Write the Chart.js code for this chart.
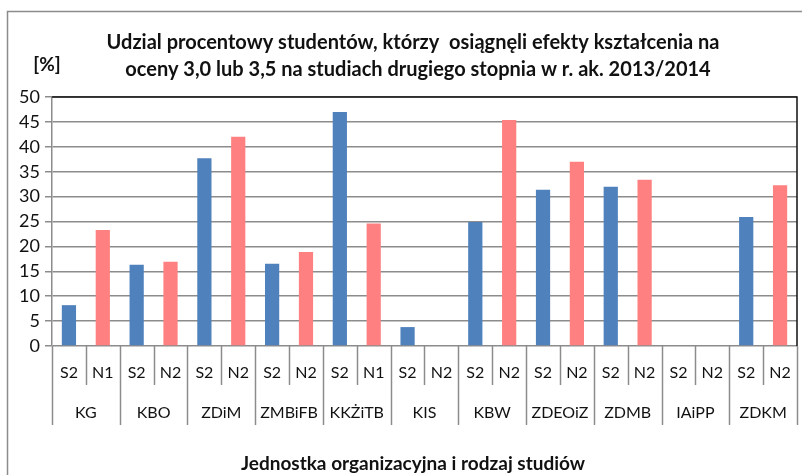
<!DOCTYPE html>
<html>
<head>
<meta charset="utf-8">
<script src="https://cdn.jsdelivr.net/npm/chart.js@4/dist/chart.umd.min.js"></script>
<style>
  html, body { margin: 0; padding: 0; background: #fff; }
  #wrap { width: 802px; height: 475px; }
</style>
</head>
<body>
<div id="wrap"><canvas id="chart" width="802" height="475"></canvas></div>
<script>
// jednostki i rodzaje studiów
const units = ['KG', 'KBO', 'ZDiM', 'ZMBiFB', 'KKŻiTB', 'KIS', 'KBW', 'ZDEOiZ', 'ZDMB', 'IAiPP', 'ZDKM']
const kinds = ['S2', 'N1', 'S2', 'N2', 'S2', 'N2', 'S2', 'N2', 'S2', 'N1', 'S2', 'N2', 'S2', 'N2', 'S2', 'N2', 'S2', 'N2', 'S2', 'N2', 'S2', 'N2']
const values = [8.2, 23.3, 16.3, 16.9, 37.7, 42.0, 16.5, 18.9, 47.0, 24.6, 3.8, 0, 24.9, 45.4, 31.4, 37.0, 32.0, 33.4, 0, 0, 25.9, 32.3]
const yTicks = [0, 5, 10, 15, 20, 25, 30, 35, 40, 45, 50]

const titleLines = [
    'Udzial procentowy studentów, którzy  osiągnęli efekty kształcenia na',
    'oceny 3,0 lub 3,5 na studiach drugiego stopnia w r. ak. 2013/2014',
]
const xTitle = 'Jednostka organizacyjna i rodzaj studiów'
const yUnit = '[%]'

const blue = '#4F81BD'
const pink = '#FF8080'
const font = 'Lato, "Open Sans", sans-serif'

const labels = kinds.map((k, i) => i)

const decor = {
    id: 'decor',
    beforeDraw(chart) {
        const c = chart.ctx
        c.save()
        c.strokeStyle = '#8c8c8c'
        c.lineWidth = 1.5
        c.strokeRect(7.5, 11.5, 900, 900)
        c.restore()
    },
    afterDraw(chart) {
        const c = chart.ctx
        const a = chart.chartArea
        const x = chart.scales.x
        const half = (x.getPixelForValue(1) - x.getPixelForValue(0)) / 2
        c.save()
        // ramka obszaru wykresu
        c.strokeStyle = '#111'
        c.lineWidth = 1.5
        c.beginPath()
        c.moveTo(a.left, a.top)
        c.lineTo(a.right, a.top)
        c.lineTo(a.right, a.bottom)
        c.stroke()

        // podziałki osi kategorii
        c.strokeStyle = '#8c8c8c'
        c.lineWidth = 1.5
        for (let i = 0; i <= kinds.length; i++) {
            const px = Math.round(x.getPixelForValue(0) - half + i * half * 2) + 0.5
            const len = i % 2 === 0 ? 79 : 39
            c.beginPath()
            c.moveTo(px, a.bottom)
            c.lineTo(px, a.bottom + len)
            c.stroke()
        }

        c.fillStyle = '#111'
        c.textAlign = 'center'
        c.textBaseline = 'middle'
        c.font = '16px ' + font
        kinds.forEach((k, i) => {
            c.fillText(k, x.getPixelForValue(i), a.bottom + 27)
        })
        units.forEach((u, i) => {
            c.fillText(u, x.getPixelForValue(i * 2) + half, a.bottom + 67)
        })

        c.font = 'bold 20px ' + font
        c.fillText(titleLines[0], 413, 43)
        c.fillText(titleLines[1], 418, 70)
        c.font = 'bold 19px ' + font
        c.fillText(yUnit, 47, 65)
        c.fillText(xTitle, 413, 464)
        c.restore()
    },
}

new Chart(document.getElementById('chart'), {
    type: 'bar',
    data: {
        labels: labels,
        datasets: [
            {
                data: values,
                backgroundColor: kinds.map((k, i) => (i % 2 === 0 ? blue : pink)),
                barPercentage: 0.42,
                categoryPercentage: 1,
            },
        ],
    },
    options: {
        responsive: false,
        animation: false,
        layout: { padding: { left: 0, top: 97, right: 5, bottom: 129 } },
        plugins: {
            legend: { display: false },
            tooltip: { enabled: false },
        },
        scales: {
            x: {
                display: false,
                offset: true,
            },
            y: {
                min: 0,
                max: 50,
                afterFit(scale) {
                    scale.width = 52
                },
                afterBuildTicks(scale) {
                    scale.ticks = yTicks.map((v) => ({ value: v }))
                },
                grid: {
                    color: '#8c8c8c',
                    lineWidth: 1.5,
                    tickLength: 7,
                },
                border: { color: '#8c8c8c', width: 1.5 },
                ticks: {
                    color: '#111',
                    padding: 5,
                    font: { family: font, size: 18 },
                },
            },
        },
    },
    plugins: [decor],
})
</script>
</body>
</html>
